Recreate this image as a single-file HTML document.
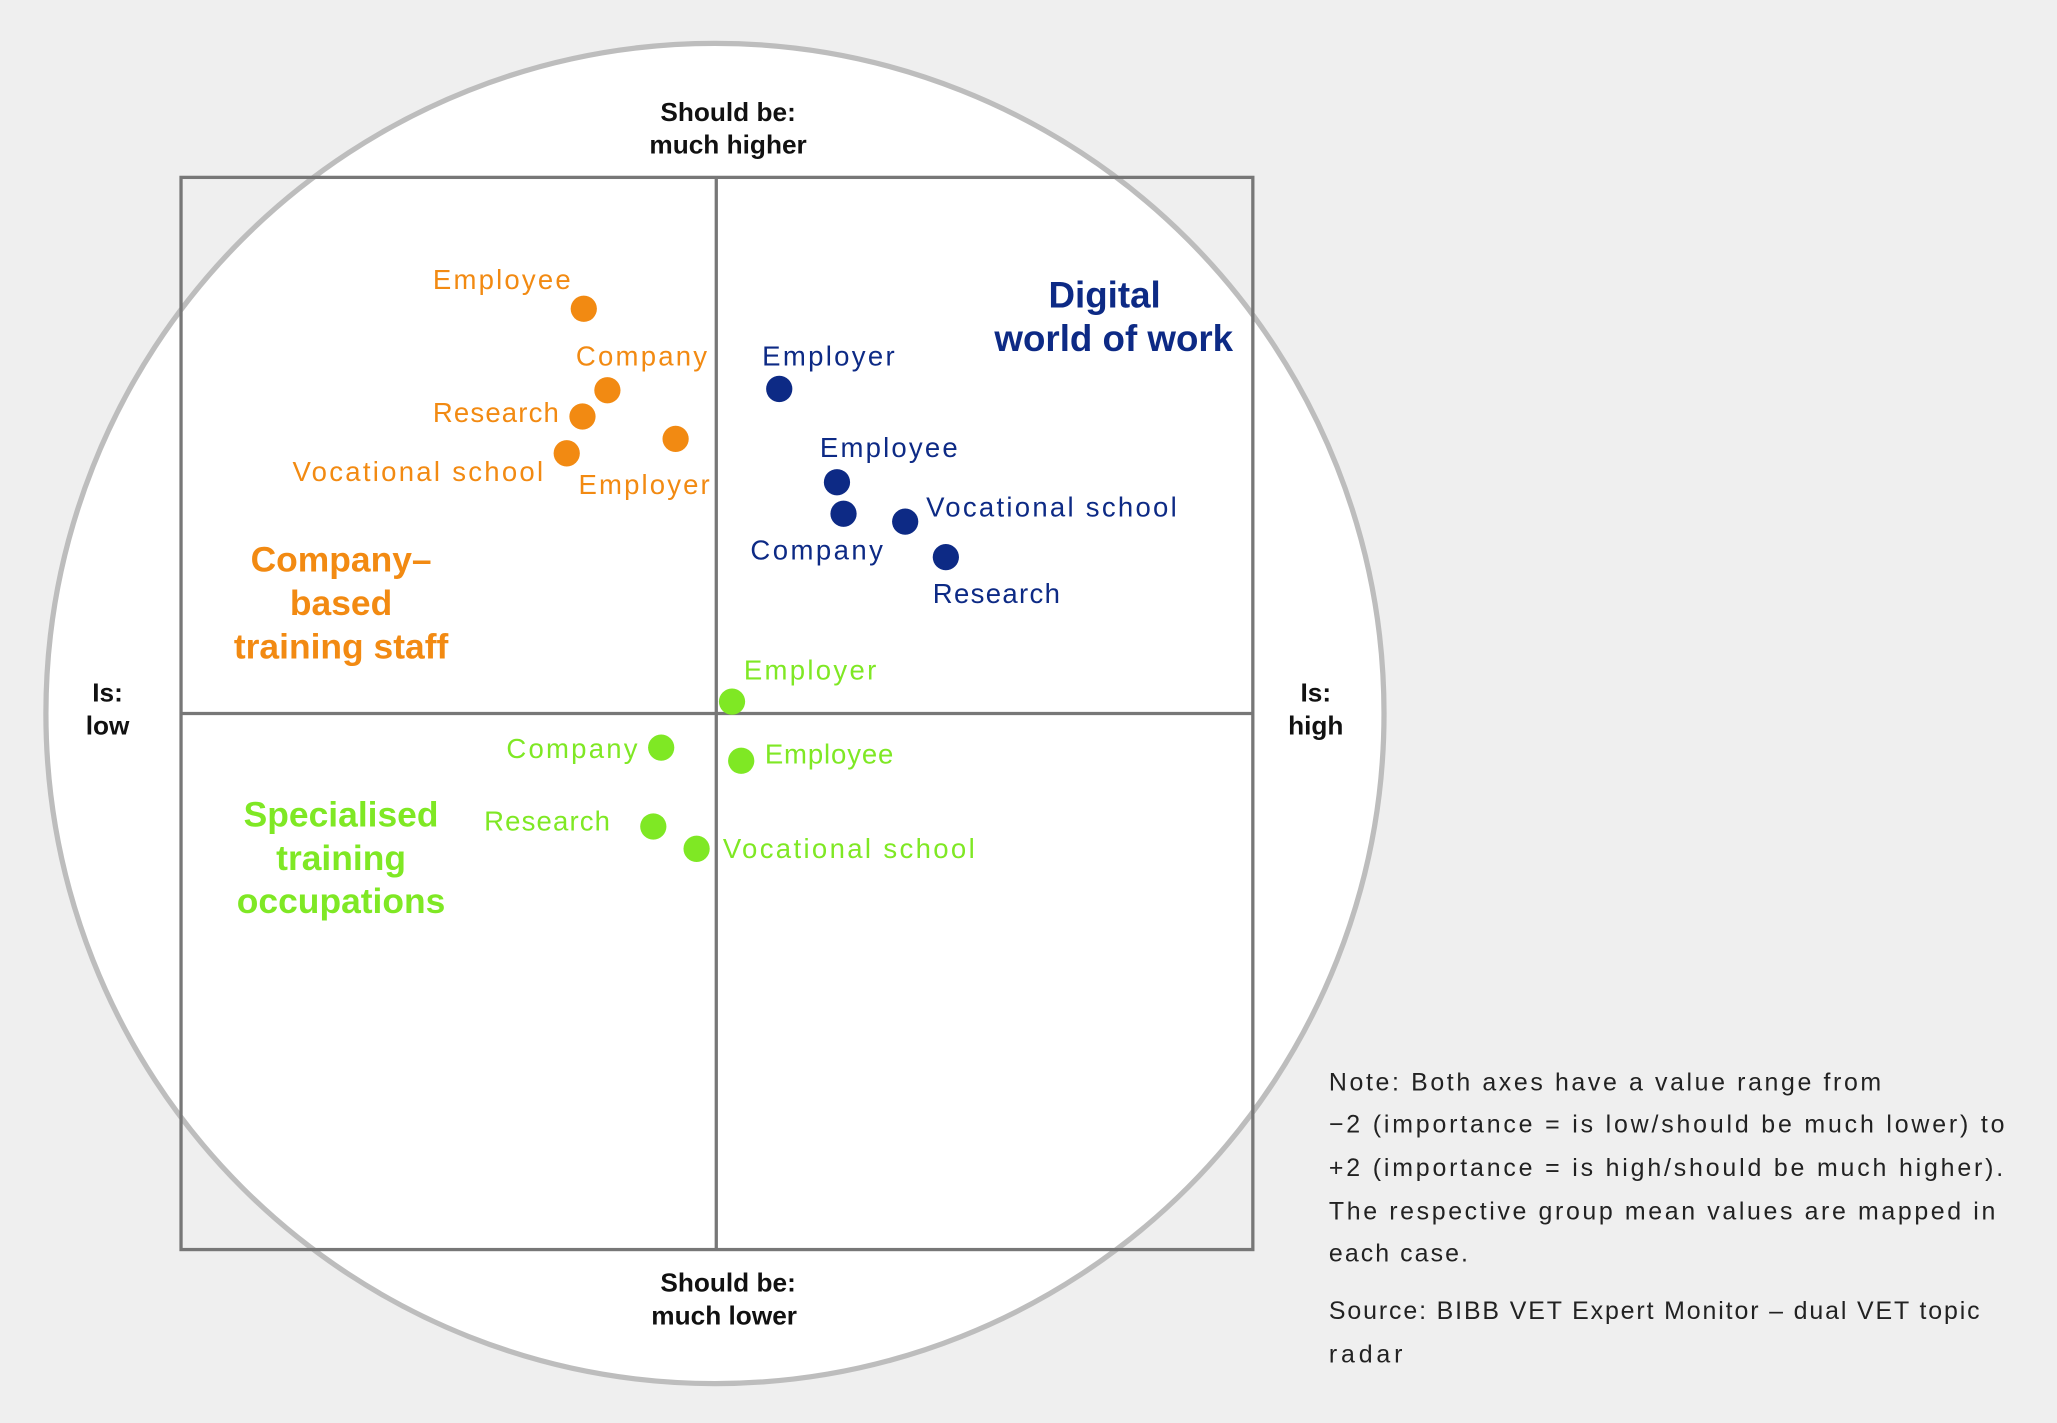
<!DOCTYPE html>
<html><head><meta charset="utf-8"><style>
html,body{margin:0;padding:0;background:#efefef;}
svg{display:block;}
text{font-family:"Liberation Sans",sans-serif;}
</style></head><body>
<svg width="2057" height="1423" viewBox="0 0 1568 1083" preserveAspectRatio="none" xmlns="http://www.w3.org/2000/svg">
<rect x="0" y="0" width="1568" height="1083" fill="#efefef"/>
<circle cx="545" cy="543" r="510" fill="#fff" stroke="#bdbdbd" stroke-width="4"/>
<rect x="138" y="135" width="817" height="816" fill="none" stroke="#777" stroke-width="2.5"/>
<line x1="546" y1="135" x2="546" y2="951" stroke="#777" stroke-width="2.5"/>
<line x1="138" y1="543" x2="955" y2="543" stroke="#777" stroke-width="2.5"/>
<g font-weight="bold" font-size="20" fill="#111" text-anchor="middle">
<text x="555" y="92">Should be:</text><text x="555" y="117">much higher</text>
<text x="555" y="983">Should be:</text><text x="552" y="1008">much lower</text>
<text x="82" y="534">Is:</text><text x="82" y="559">low</text>
<text x="1003" y="534">Is:</text><text x="1003" y="559">high</text>
</g>
<g fill="#f28a12" font-size="21">
<circle cx="445" cy="235" r="10"/><circle cx="463" cy="297" r="10"/><circle cx="444" cy="317" r="10"/><circle cx="515" cy="334" r="10"/><circle cx="432" cy="345" r="10"/>
<text x="330" y="220" textLength="105">Employee</text><text x="439" y="278" textLength="100">Company</text><text x="330" y="321" textLength="96">Research</text><text x="223" y="366" textLength="191">Vocational school</text><text x="441" y="376" textLength="100">Employer</text>
<g font-weight="bold" font-size="27" text-anchor="middle"><text x="260" y="435">Company–</text><text x="260" y="468">based</text><text x="260" y="501">training staff</text></g>
</g>
<g fill="#0d2a85" font-size="21">
<circle cx="594" cy="296" r="10"/><circle cx="638" cy="367" r="10"/><circle cx="643" cy="391" r="10"/><circle cx="690" cy="397" r="10"/><circle cx="721" cy="424" r="10"/>
<text x="581" y="278" textLength="101">Employer</text><text x="625" y="348" textLength="105">Employee</text><text x="706" y="393" textLength="191">Vocational school</text><text x="572" y="426" textLength="101">Company</text><text x="711" y="459" textLength="97">Research</text>
<g font-weight="bold" font-size="28" text-anchor="middle"><text x="842" y="234">Digital</text><text x="849" y="267">world of work</text></g>
</g>
<g fill="#7fe824" font-size="21">
<circle cx="558" cy="534" r="10"/><circle cx="504" cy="569" r="10"/><circle cx="565" cy="579" r="10"/><circle cx="498" cy="629" r="10"/><circle cx="531" cy="646" r="10"/>
<text x="567" y="517" textLength="101">Employer</text><text x="386" y="577" textLength="100">Company</text><text x="583" y="581" textLength="98">Employee</text><text x="369" y="632" textLength="96">Research</text><text x="551" y="653" textLength="192">Vocational school</text>
<g font-weight="bold" font-size="27" text-anchor="middle"><text x="260" y="629">Specialised</text><text x="260" y="662">training</text><text x="260" y="695">occupations</text></g>
</g>
<g fill="#222" font-size="19">
<text x="1013" y="830" textLength="421">Note: Both axes have a value range from</text>
<text x="1013" y="862" textLength="515">−2 (importance = is low/should be much lower) to</text>
<text x="1013" y="895" textLength="514">+2 (importance = is high/should be much higher).</text>
<text x="1013" y="928" textLength="508">The respective group mean values are mapped in</text>
<text x="1013" y="960" textLength="106">each case.</text>
<text x="1013" y="1004" textLength="496">Source: BIBB VET Expert Monitor – dual VET topic</text>
<text x="1013" y="1037" textLength="56">radar</text>
</g>
</svg>
</body></html>
